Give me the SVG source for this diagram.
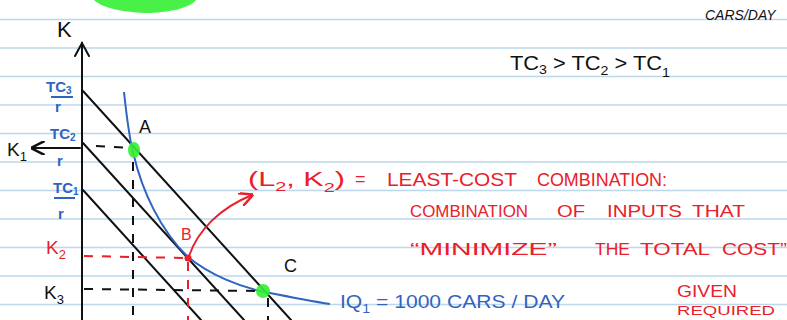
<svg xmlns="http://www.w3.org/2000/svg" width="787" height="320" viewBox="0 0 787 320">
<defs>
<style>
.rule{stroke:#bcd8ea;stroke-width:1.5}
.blk{stroke:#111;stroke-width:2;fill:none;stroke-linecap:round}
.dash{stroke:#111;stroke-width:2;fill:none;stroke-dasharray:9 9}
.rdash{stroke:#e8202a;stroke-width:2;fill:none;stroke-dasharray:9 9}
.iq{stroke:#2f64c0;stroke-width:2;fill:none}
.t{font-family:"Liberation Sans",Arial,sans-serif}
.red{fill:#e8202a}
.blue{fill:#2f64c0}
.black{fill:#111}
.hl{fill:#33f033;opacity:0.9}
</style>
<marker id="ahr" viewBox="0 0 10 10" refX="9" refY="5" markerWidth="7" markerHeight="7" orient="auto">
<path d="M0,0 L10,5 L0,10" fill="none" stroke="#e8202a" stroke-width="1.8"/>
</marker>
<marker id="ahk" viewBox="0 0 10 10" refX="9" refY="5" markerWidth="7" markerHeight="7" orient="auto">
<path d="M0,0 L10,5 L0,10" fill="none" stroke="#111" stroke-width="1.8"/>
</marker>
</defs>
<rect width="787" height="320" fill="#ffffff"/>
<g id="paper">
<line class="rule" x1="0" y1="19.5" x2="787" y2="19.5"/>
<line class="rule" x1="0" y1="48" x2="787" y2="48"/>
<line class="rule" x1="0" y1="76.5" x2="787" y2="76.5"/>
<line class="rule" x1="0" y1="105" x2="787" y2="105"/>
<line class="rule" x1="0" y1="133.5" x2="787" y2="133.5"/>
<line class="rule" x1="0" y1="162" x2="787" y2="162"/>
<line class="rule" x1="0" y1="190.5" x2="787" y2="190.5"/>
<line class="rule" x1="0" y1="219" x2="787" y2="219"/>
<line class="rule" x1="0" y1="247.5" x2="787" y2="247.5"/>
<line class="rule" x1="0" y1="276" x2="787" y2="276"/>
<line class="rule" x1="0" y1="304.5" x2="787" y2="304.5"/>
</g>
<path class="hl" d="M94,0 L196,0 C190,8 170,12 150,13 C125,13 102,8 94,0 Z"/>
<g id="connectors">
<line class="blk" x1="82" y1="320" x2="82" y2="43"/>
<path class="blk" d="M75,56 L82,43 L89,56"/>
<line class="blk" x1="83" y1="91" x2="291" y2="320"/>
<line class="blk" x1="83" y1="143" x2="244" y2="320"/>
<line class="blk" x1="83" y1="190" x2="201" y2="320"/>
<path class="iq" d="M124,92 C127,120 130,142 134,156 C142,190 160,230 188,257 C210,275 240,287 265,292 C290,297 310,301 330,304"/>
<line class="blk" x1="80" y1="148" x2="32" y2="148" marker-end="url(#ahk)"/>
<line class="dash" x1="96" y1="146" x2="130" y2="148"/>
<line class="dash" x1="133" y1="162" x2="133" y2="320"/>
<line class="rdash" x1="84" y1="256" x2="186" y2="258"/>
<line class="rdash" x1="188" y1="262" x2="188" y2="320"/>
<line class="dash" x1="84" y1="289" x2="258" y2="291"/>
<line class="dash" x1="268" y1="298" x2="268" y2="320"/>
<path d="M189,256 C198,230 220,208 252,195" stroke="#e8202a" stroke-width="2" fill="none" marker-end="url(#ahr)"/>
</g>
<g id="axis-labels">
<text class="t black" x="57" y="37" font-size="22">K</text>
<text class="t black" x="7" y="156" font-size="19">K<tspan font-size="13" dy="5">1</tspan></text>
<text class="t red" x="46" y="254" font-size="19">K<tspan font-size="13" dy="5">2</tspan></text>
<text class="t black" x="44" y="299" font-size="19">K<tspan font-size="13" dy="5">3</tspan></text>
</g>
<g id="intercepts" class="t blue" font-size="15" font-weight="bold">
<text x="46" y="92">TC<tspan font-size="10" dy="2">3</tspan></text>
<line x1="51" y1="97" x2="73" y2="97" stroke="#2f64c0" stroke-width="2"/>
<text x="55" y="112">r</text>
<text x="50" y="139">TC<tspan font-size="10" dy="2">2</tspan></text>
<text x="57" y="166">r</text>
<text x="53" y="193">TC<tspan font-size="10" dy="2">1</tspan></text>
<line x1="54" y1="198" x2="75" y2="198" stroke="#2f64c0" stroke-width="2"/>
<text x="58" y="219">r</text>
</g>
<g id="point-A">
<ellipse class="hl" cx="134" cy="150" rx="6" ry="8"/>
<text class="t black" x="139" y="133" font-size="18">A</text>
</g>
<g id="point-B">
<circle cx="188" cy="258" r="3.5" fill="#e8202a"/>
<text class="t red" x="181" y="240" font-size="16">B</text>
</g>
<g id="point-C">
<ellipse class="hl" cx="263" cy="291" rx="7" ry="7"/>
<text class="t black" x="284" y="272" font-size="18">C</text>
</g>
<g id="isoquant-label">
<text class="t blue" x="340" y="308" font-size="18" textLength="225" lengthAdjust="spacingAndGlyphs">IQ<tspan font-size="12" dy="5">1</tspan><tspan dy="-5"> = 1000 CARS / DAY</tspan></text>
</g>
<g id="cost-order">
<text class="t black" x="510" y="70" font-size="20" textLength="160" lengthAdjust="spacingAndGlyphs">TC<tspan font-size="13" dy="4">3</tspan><tspan dy="-4"> &gt; TC</tspan><tspan font-size="13" dy="5">2</tspan><tspan dy="-5"> &gt; TC</tspan><tspan font-size="13" dy="7">1</tspan></text>
<text class="t black" x="705" y="20" font-size="14" font-style="italic">CARS/DAY</text>
</g>
<g id="least-cost-note" class="t red">
<text x="248" y="186" font-size="20" textLength="97" lengthAdjust="spacingAndGlyphs">(L<tspan font-size="13" dy="5">2</tspan><tspan dy="-5">, K</tspan><tspan font-size="13" dy="6">2</tspan><tspan dy="-6">)</tspan></text>
<text x="355" y="185" font-size="18">=</text>
<text x="387" y="186" font-size="19" textLength="130" lengthAdjust="spacingAndGlyphs">LEAST-COST</text>
<text x="537" y="186" font-size="19" textLength="130" lengthAdjust="spacingAndGlyphs">COMBINATION:</text>
<text x="410" y="217" font-size="17" textLength="118" lengthAdjust="spacingAndGlyphs">COMBINATION</text>
<text x="557" y="217" font-size="17" textLength="28" lengthAdjust="spacingAndGlyphs">OF</text>
<text x="607" y="217" font-size="17" textLength="75" lengthAdjust="spacingAndGlyphs">INPUTS</text>
<text x="692" y="217" font-size="17" textLength="53" lengthAdjust="spacingAndGlyphs">THAT</text>
<text x="410" y="255" font-size="17" textLength="147" lengthAdjust="spacingAndGlyphs">“MINIMIZE”</text>
<text x="595" y="255" font-size="17" textLength="35" lengthAdjust="spacingAndGlyphs">THE</text>
<text x="640" y="255" font-size="17" textLength="70" lengthAdjust="spacingAndGlyphs">TOTAL</text>
<text x="722" y="255" font-size="17" textLength="65" lengthAdjust="spacingAndGlyphs">COST”</text>
<text x="677" y="297" font-size="17" textLength="60" lengthAdjust="spacingAndGlyphs">GIVEN</text>
<text x="677" y="315" font-size="13" textLength="98" lengthAdjust="spacingAndGlyphs">REQUIRED</text>
</g>
</svg>
